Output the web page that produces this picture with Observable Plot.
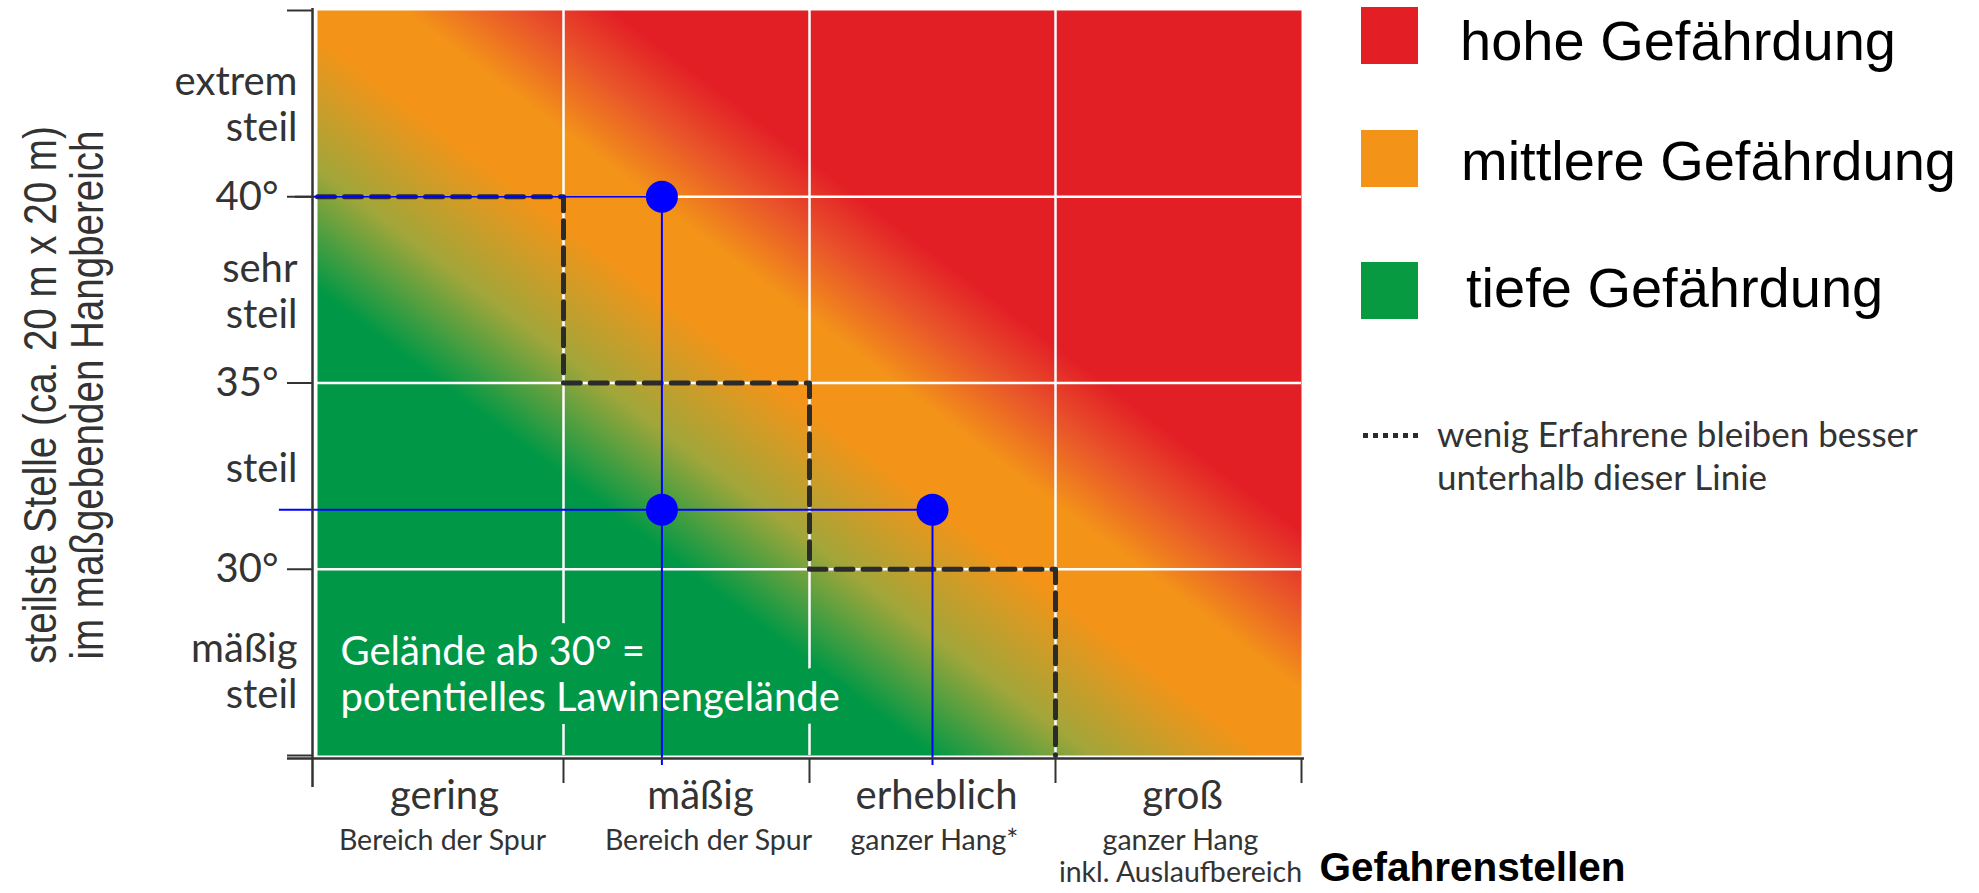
<!DOCTYPE html>
<html>
<head>
<meta charset="utf-8">
<script src="https://cdn.jsdelivr.net/npm/d3@7"></script>
<script src="https://cdn.jsdelivr.net/npm/@observablehq/plot@0.6"></script>
<style>
  body { margin: 0; background: #fff; }
  #wrap { position: relative; width: 1979px; height: 893px; overflow: hidden; }
  .sw { position: absolute; width: 57px; height: 57px; }
  .lt { position: absolute; font-family: "Liberation Sans", Arial, sans-serif; font-size: 56px; line-height: 56px; color: #000; white-space: nowrap; }
  .note { position: absolute; font-family: Lato, sans-serif; font-size: 35px; line-height: 43px; color: #333; white-space: nowrap; }
  .dots { position: absolute; height: 5px; background: repeating-linear-gradient(to right, #2b2b2b 0 5px, transparent 5px 10px); }
</style>
</head>
<body>
<div id="wrap">
  <div id="chart"></div>
  <div id="legend"></div>
</div>
<script>
// ---- data ----
const dangerLevels = ["gering", "mäßig", "erheblich", "groß"];
const dangerAreas = ["Bereich der Spur", "Bereich der Spur", "ganzer Hang*", "ganzer Hang\ninkl. Auslaufbereich"];
const slopeTicks = [25, 30, 35, 40, 45];
const slopeDegreeLabels = [40, 35, 30];
const slopeBandMid = [42.5, 37.5, 32.5, 27.5];
const slopeBandNames = ["extrem\nsteil", "sehr\nsteil", "steil", "mäßig\nsteil"];
const degreesPerLevel = 5;

// diagonal hazard field: colour stops along (danger level + slope steps)
const riskStops = [2.5, 3.15, 3.85, 4.35, 4.8, 5.2];
const riskColors = ["#009846", "#a2a63a", "#f39419", "#f39419", "#e9552a", "#e31f26"];

// "wenig Erfahrene" staircase
const stairDanger = [0, 1, 1, 2, 2, 3, 3];
const stairSlope = [40, 40, 35, 35, 30, 30, 25];

// example points and their guide lines
const exampleDanger = [1.4, 1.4, 2.5];
const exampleSlope = [40, 31.6, 31.6];
const hGuideSlope = [40, 31.6];
const hGuideFrom = [-0.09, -0.155];
const hGuideTo = [1.4, 2.5];
const vGuideDanger = [1.4, 2.5];
const vGuideFrom = [24.73, 24.73];
const vGuideTo = [40, 31.6];

const legendLabels = ["hohe Gefährdung", "mittlere Gefährdung", "tiefe Gefährdung"];
const legendColors = ["#e31e25", "#f39318", "#089a41"];
const noteText = "Gelände ab 30° =\npotentielles Lawinengelände";
const yTitle = "steilste Stelle (ca. 20 m x 20 m)\nim maßgebenden Hangbereich";
const xTitle = "Gefahrenstellen";
const lineNote = "wenig Erfahrene bleiben besser\nunterhalb dieser Linie";

// ---- tables built from the arrays ----
const levels = dangerLevels.map((name, i) => ({i, name, area: dangerAreas[i]}));
const bands = slopeBandMid.map((y, i) => ({y, label: slopeBandNames[i]}));
const stair = stairDanger.map((x, i) => ({x, y: stairSlope[i]}));
const points = exampleDanger.map((x, i) => ({x, y: exampleSlope[i]}));
const hGuides = hGuideSlope.map((y, i) => ({y, x1: hGuideFrom[i], x2: hGuideTo[i]}));
const vGuides = vGuideDanger.map((x, i) => ({x, y1: vGuideFrom[i], y2: vGuideTo[i]}));

const ink = "#333";
const blue = "#0000ff";
const green = riskColors[0];

const chart = Plot.plot({
  width: 1979,
  height: 893,
  marginLeft: 317,
  marginRight: 678,
  marginTop: 10,
  marginBottom: 138,
  x: {domain: [0, 4]},
  y: {domain: [25, 45]},
  color: {type: "linear", domain: riskStops, range: riskColors, interpolate: "rgb", clamp: true},
  style: {fontFamily: "Lato, sans-serif", color: ink, background: "transparent", overflow: "visible"},
  marks: [
    Plot.raster({
      x1: 0, x2: 4, y1: 25, y2: 45, pixelSize: 1,
      fill: (x, y) => x + (y - 25) / degreesPerLevel
    }),
    Plot.ruleX([1, 2, 3], {stroke: "white", strokeWidth: 2.5}),
    Plot.ruleY([30, 35, 40], {stroke: "white", strokeWidth: 2.5}),
    Plot.text([noteText], {
      x: 0, y: 25, dx: 23, dy: -45, textAnchor: "start", lineAnchor: "bottom",
      lineHeight: 1.15, fontSize: 40, fill: "white", stroke: green, strokeWidth: 26
    }),
    Plot.line(stair, {x: "x", y: "y", stroke: "#2b2b2b", strokeWidth: 5, strokeDasharray: "17 10", curve: "linear"}),
    Plot.ruleY(hGuides, {y: "y", x1: "x1", x2: "x2", stroke: blue, strokeWidth: 2}),
    Plot.ruleX(vGuides, {x: "x", y1: "y1", y2: "y2", stroke: blue, strokeWidth: 2}),
    Plot.dot(points, {x: "x", y: "y", r: 16, fill: blue}),
    // axes
    Plot.ruleX([0], {dx: -5, stroke: ink, strokeWidth: 2.5, insetTop: -2, insetBottom: -32}),
    Plot.ruleY([25], {dy: 3, stroke: ink, strokeWidth: 2.5, insetLeft: -30, insetRight: -3}),
    Plot.axisY(slopeTicks, {tickSize: 25, dx: -5, stroke: ink, strokeWidth: 2, fill: "none"}),
    Plot.axisX([1, 2, 3, 4], {anchor: "bottom", tickSize: 25, dy: 3, stroke: ink, strokeWidth: 2, fill: "none"}),
    // y tick labels
    Plot.text(bands, {filter: d => d.y > 35, x: 0, y: "y", text: "label", textAnchor: "end", dx: -20, lineAnchor: "middle", lineHeight: 1.15, fontSize: 40, fill: ink}),
    Plot.text(bands, {filter: d => d.y > 30 && d.y < 35, x: 0, y: "y", text: "label", textAnchor: "end", dx: -20, dy: -9, lineAnchor: "middle", lineHeight: 1.15, fontSize: 40, fill: ink}),
    Plot.text(bands, {filter: d => d.y < 30, x: 0, y: "y", text: "label", textAnchor: "end", dx: -20, dy: 8, lineAnchor: "middle", lineHeight: 1.15, fontSize: 40, fill: ink}),
    Plot.text(slopeDegreeLabels, {x: 0, y: d => d, text: d => `${d}°`, textAnchor: "end", dx: -39, lineAnchor: "middle", fontSize: 40, fill: ink}),
    // x tick labels
    Plot.text(levels, {filter: d => d.i !== 1, x: d => d.i + 0.5, y: 25, text: "name", dx: 4, dy: 53, lineAnchor: "bottom", fontSize: 40, fill: ink}),
    Plot.text(levels, {filter: d => d.i === 1, x: d => d.i + 0.5, y: 25, text: "name", dx: 14, dy: 53, lineAnchor: "bottom", fontSize: 40, fill: ink}),
    Plot.text(levels, {filter: d => d.i !== 1, x: d => d.i + 0.5, y: 25, text: "area", dx: 2, dy: 72, lineAnchor: "top", lineHeight: 1.12, fontSize: 28.5, fill: ink}),
    Plot.text(levels, {filter: d => d.i === 1, x: d => d.i + 0.5, y: 25, text: "area", dx: 22, dy: 72, lineAnchor: "top", lineHeight: 1.12, fontSize: 28.5, fill: ink}),
    // axis titles
    Plot.text([xTitle], {x: 4, y: 25, dx: 18, dy: 125, textAnchor: "start", lineAnchor: "bottom", fontFamily: "'Liberation Sans', Arial, sans-serif", fontWeight: "bold", fontSize: 40.5, fill: "#000"}),
    Plot.text([yTitle], {frameAnchor: "left", dx: -215, dy: 12, rotate: -90, textAnchor: "middle", lineAnchor: "bottom", lineHeight: 1.0, fontFamily: "'Liberation Sans', Arial, sans-serif", fontSize: 47, fill: ink})
  ]
});
document.getElementById("chart").appendChild(chart);

// condense the rotated y-axis title along its reading direction (narrow face)
for (const t of chart.querySelectorAll("text")) {
  if (t.textContent.startsWith("steilste")) {
    const tr = t.getAttribute("transform");
    if (tr && tr.includes("rotate")) t.setAttribute("transform", tr + " scale(0.82,1)");
    else if (t.parentNode && t.parentNode.getAttribute("transform") && t.parentNode.getAttribute("transform").includes("rotate")) {
      t.setAttribute("transform", (tr ? tr + " " : "") + "scale(0.82,1)");
    }
  }
}

// ---- legend (HTML, right side) ----
const legend = document.getElementById("legend");
const swTops = [7, 130, 262];
const txtTops = [13, 133, 260];
const txtLefts = [1460, 1461, 1466];
legendLabels.forEach((lab, i) => {
  const sw = document.createElement("div");
  sw.className = "sw";
  sw.style.left = "1361px";
  sw.style.top = swTops[i] + "px";
  sw.style.background = legendColors[i];
  legend.appendChild(sw);
  const t = document.createElement("div");
  t.className = "lt";
  t.style.left = txtLefts[i] + "px";
  t.style.top = txtTops[i] + "px";
  t.textContent = lab;
  legend.appendChild(t);
});
const dots = document.createElement("div");
dots.className = "dots";
dots.style.left = "1363px";
dots.style.top = "433px";
dots.style.width = "60px";
legend.appendChild(dots);
const note = document.createElement("div");
note.className = "note";
note.style.left = "1437px";
note.style.top = "412px";
note.innerHTML = lineNote.split("\n").join("<br>");
legend.appendChild(note);
</script>
</body>
</html>
